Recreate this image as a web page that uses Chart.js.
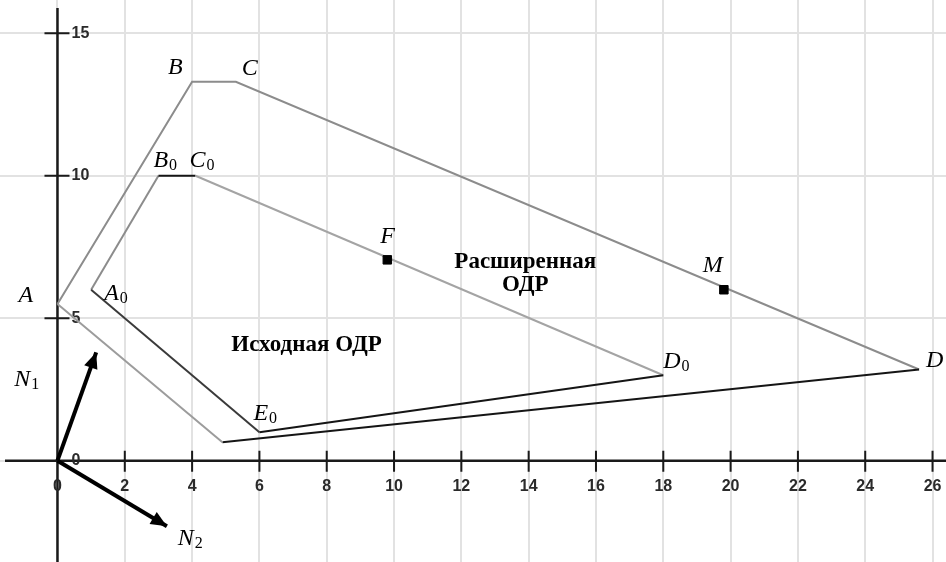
<!DOCTYPE html>
<html>
<head>
<meta charset="utf-8">
<script src="https://cdn.jsdelivr.net/npm/chart.js@4/dist/chart.umd.min.js"></script>
<style>
  body { margin: 0; background: #fff; }
  canvas { display: block; }
</style>
</head>
<body>
<canvas id="odr" width="946" height="562"></canvas>
<script>
// вершины расширенной ОДР
const outerNames = ['A', 'B', 'C', 'D', 'E'];
const outerX = [0, 4, 5.3, 25.6, 4.9];
const outerY = [5.5, 13.3, 13.3, 3.2, 0.65];

// вершины исходной ОДР
const innerNames = ['A0', 'B0', 'C0', 'D0', 'E0'];
const innerX = [1, 3, 4.1, 18, 6];
const innerY = [6, 10, 10, 3, 1];

// отмеченные точки
const pointNames = ['F', 'M'];
const pointX = [9.8, 19.8];
const pointY = [7.05, 6.0];

// нормали
const normalNames = ['N1', 'N2'];
const normalX = [1.15, 3.25];
const normalY = [3.8, -2.3];

const xTicks = [0, 2, 4, 6, 8, 10, 12, 14, 16, 18, 20, 22, 24, 26];
const yTicks = [0, 5, 10, 15];

const regionLabels = ['Исходная ОДР', 'Расширенная', 'ОДР'];

// цвета рёбер (по порядку обхода)
const outerEdgeColors = ['#8c8c8c', '#8c8c8c', '#8c8c8c', '#151515', '#9c9c9c'];
const innerEdgeColors = ['#8c8c8c', '#151515', '#a4a4a4', '#151515', '#3a3a3a'];

function closedPath(xs, ys) {
  const pts = xs.map((x, i) => ({x: x, y: ys[i]}));
  pts.push(pts[0]);
  return pts;
}

// смещения подписей вершин, px (левый край, базовая линия)
const labelOffsets = {
  A: [-39, -2], B: [-24, -8], C: [6, -7], D: [7, -3],
  A0: [13, 10], B0: [-5, -9], C0: [-6, -9], D0: [0, -7], E0: [-6, -12],
  F: [-7, -17], M: [-21, -18],
  N1: [-82, 34], N2: [11, 19]
};
// центры надписей областей, в координатах графика
const regionPos = [[7.4, 4.06], [13.9, 6.97], [13.9, 6.16]];

const axesPlugin = {
  id: 'axesPlugin',
  beforeDatasetsDraw(chart) {
    const {ctx, scales: {x, y}} = chart;
    const x0 = x.getPixelForValue(0), y0 = y.getPixelForValue(0);
    ctx.save();
    ctx.strokeStyle = '#1a1a1a';
    ctx.lineWidth = 2.5;
    ctx.beginPath();
    ctx.moveTo(5, y0); ctx.lineTo(chart.width, y0);
    ctx.moveTo(x0, 8); ctx.lineTo(x0, chart.height);
    ctx.stroke();

    ctx.lineWidth = 2;
    ctx.beginPath();
    xTicks.forEach(v => {
      if (v === 0) return;
      const px = x.getPixelForValue(v);
      ctx.moveTo(px, y0 - 10); ctx.lineTo(px, y0 + 11);
    });
    yTicks.forEach(v => {
      if (v === 0) return;
      const py = y.getPixelForValue(v);
      ctx.moveTo(x0 - 13, py); ctx.lineTo(x0 + 12, py);
    });
    ctx.stroke();

    ctx.fillStyle = '#2a2a2a';
    ctx.font = 'bold 16px "Liberation Sans", Arial, sans-serif';
    ctx.textAlign = 'center';
    ctx.textBaseline = 'middle';
    xTicks.forEach(v => ctx.fillText(String(v), x.getPixelForValue(v), y0 + 26));
    ctx.textAlign = 'left';
    yTicks.forEach(v => ctx.fillText(String(v), x0 + 14, y.getPixelForValue(v)));
    ctx.restore();
  }
};

const labelsPlugin = {
  id: 'labelsPlugin',
  afterDatasetsDraw(chart) {
    const {ctx, scales: {x, y}} = chart;
    ctx.save();

    // наконечники нормалей
    normalX.forEach((nx, i) => {
      const tx = x.getPixelForValue(nx), ty = y.getPixelForValue(normalY[i]);
      const ox = x.getPixelForValue(0), oy = y.getPixelForValue(0);
      const a = Math.atan2(ty - oy, tx - ox);
      const len = 16, w = 7;
      ctx.fillStyle = '#000';
      ctx.beginPath();
      ctx.moveTo(tx, ty);
      ctx.lineTo(tx - len * Math.cos(a) + w * Math.sin(a), ty - len * Math.sin(a) - w * Math.cos(a));
      ctx.lineTo(tx - len * Math.cos(a) - w * Math.sin(a), ty - len * Math.sin(a) + w * Math.cos(a));
      ctx.closePath();
      ctx.fill();
    });

    const drawName = (name, px, py) => {
      const off = labelOffsets[name];
      const main = name[0], sub = name.slice(1);
      const lx = px + off[0], ly = py + off[1];
      ctx.fillStyle = '#000';
      ctx.textAlign = 'left';
      ctx.textBaseline = 'alphabetic';
      ctx.font = 'italic 24px "Liberation Serif", "Times New Roman", serif';
      ctx.fillText(main, lx, ly);
      if (sub) {
        const w = ctx.measureText(main).width;
        ctx.font = '16px "Liberation Serif", "Times New Roman", serif';
        ctx.fillText(sub, lx + w + 1, ly + 3);
      }
    };
    outerNames.forEach((n, i) => {
      if (n === 'E') return;
      drawName(n, x.getPixelForValue(outerX[i]), y.getPixelForValue(outerY[i]));
    });
    innerNames.forEach((n, i) => drawName(n, x.getPixelForValue(innerX[i]), y.getPixelForValue(innerY[i])));
    pointNames.forEach((n, i) => drawName(n, x.getPixelForValue(pointX[i]), y.getPixelForValue(pointY[i])));
    normalNames.forEach((n, i) => drawName(n, x.getPixelForValue(normalX[i]), y.getPixelForValue(normalY[i])));

    ctx.font = 'bold 23px "Liberation Serif", "Times New Roman", serif';
    ctx.textAlign = 'center';
    ctx.textBaseline = 'middle';
    regionLabels.forEach((t, i) => {
      ctx.fillText(t, x.getPixelForValue(regionPos[i][0]), y.getPixelForValue(regionPos[i][1]));
    });
    ctx.restore();
  }
};

const polyStyle = {
  showLine: true, fill: false, tension: 0, borderWidth: 2,
  pointRadius: 0, pointHoverRadius: 0
};

new Chart(document.getElementById('odr'), {
  type: 'scatter',
  data: {
    datasets: [
      {
        label: 'Точки',
        data: pointX.map((px, i) => ({x: px, y: pointY[i]})),
        pointStyle: 'rect',
        pointRadius: 6,
        pointHoverRadius: 6,
        backgroundColor: '#000',
        borderColor: '#000',
        borderWidth: 1
      },
      {
        ...polyStyle,
        label: 'Расширенная ОДР',
        data: closedPath(outerX, outerY),
        borderColor: '#8c8c8c',
        segment: { borderColor: c => outerEdgeColors[c.p0DataIndex] }
      },
      {
        ...polyStyle,
        label: 'Исходная ОДР',
        data: closedPath(innerX, innerY),
        borderColor: '#8c8c8c',
        segment: { borderColor: c => innerEdgeColors[c.p0DataIndex] }
      },
      ...normalX.map((nx, i) => ({
        ...polyStyle,
        label: normalNames[i],
        data: [{x: 0, y: 0}, {x: nx, y: normalY[i]}],
        borderColor: '#000',
        borderWidth: 4
      }))
    ]
  },
  options: {
    responsive: false,
    animation: false,
    layout: { padding: 0, autoPadding: false },
    plugins: {
      legend: { display: false },
      tooltip: { enabled: false }
    },
    scales: {
      x: {
        type: 'linear',
        min: -1.708,
        max: 26.4,
        border: { display: false },
        grid: { color: '#e2e2e2', lineWidth: 2, drawTicks: false },
        ticks: { display: false, stepSize: 2, includeBounds: false }
      },
      y: {
        type: 'linear',
        min: -3.556,
        max: 16.17,
        border: { display: false },
        grid: { color: '#e2e2e2', lineWidth: 2, drawTicks: false },
        ticks: { display: false, stepSize: 5, includeBounds: false }
      }
    }
  },
  plugins: [axesPlugin, labelsPlugin]
});
</script>
</body>
</html>
